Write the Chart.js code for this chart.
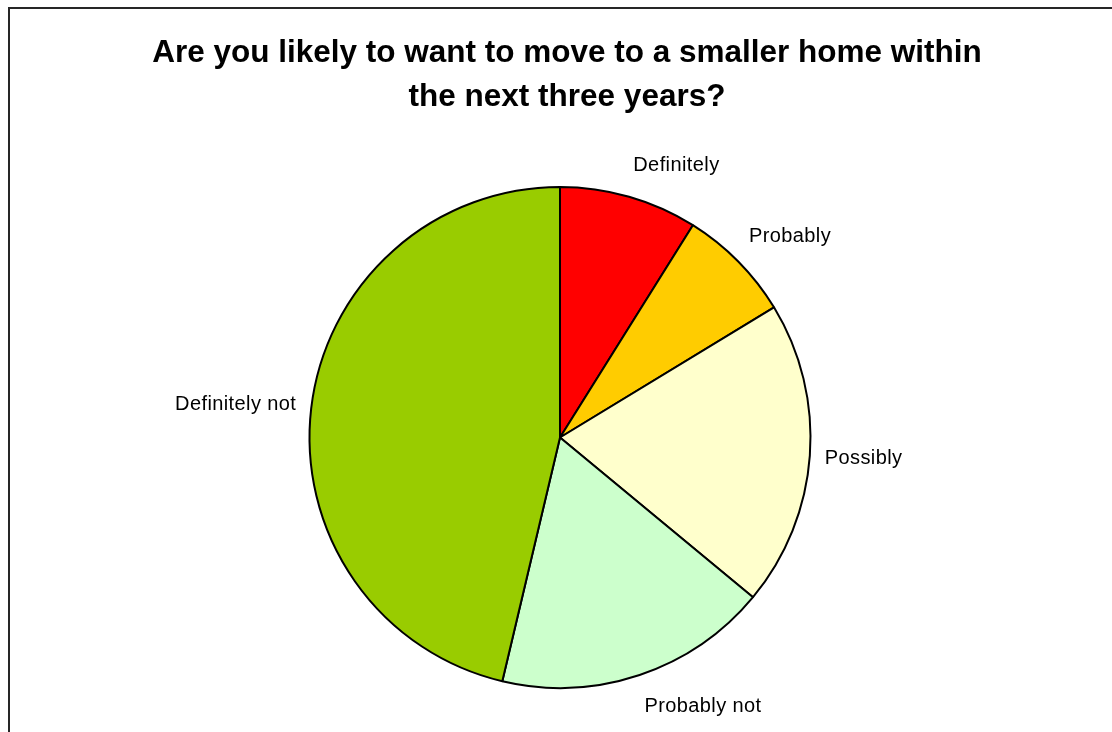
<!DOCTYPE html>
<html>
<head>
<meta charset="utf-8">
<script src="https://cdn.jsdelivr.net/npm/chart.js@4.4.1/dist/chart.umd.min.js"></script>
<style>
  html, body { margin: 0; padding: 0; background: #ffffff; }
  #wrap { position: relative; width: 1112px; height: 732px; overflow: hidden; }
  canvas { position: absolute; left: 0; top: 0; }
</style>
</head>
<body>
<div id="wrap"><canvas id="c" width="1112" height="732"></canvas></div>
<script>
// ---- Data ----
const titleLines = ["Are you likely to want to move to a smaller home within", "the next three years?"];
const categories = ["Definitely", "Probably", "Possibly", "Probably not", "Definitely not"];
const shares = [8.9, 7.4, 19.7, 17.7, 46.3];
const sliceColors = ["#FF0000", "#FFCC00", "#FFFFCC", "#CCFFCC", "#99CC00"];

// ---- Frame + title plugin ----
const framePlugin = {
  id: 'frameTitle',
  beforeDraw(chart) {
    const ctx = chart.ctx;
    ctx.save();
    ctx.fillStyle = '#ffffff';
    ctx.fillRect(0, 0, chart.width, chart.height);
    ctx.fillStyle = '#262626';
    ctx.fillRect(8, 7, 2, chart.height - 7);
    ctx.fillRect(8, 7, chart.width - 8, 2);
    ctx.fillStyle = '#000000';
    ctx.font = 'bold 31.5px "Liberation Sans", Arial, sans-serif';
    ctx.textAlign = 'center';
    ctx.textBaseline = 'alphabetic';
    titleLines.forEach((t, i) => ctx.fillText(t, 567, 62 + i * 44));
    ctx.restore();
  }
};

// ---- Outside labels plugin ----
const labelPlugin = {
  id: 'outsideLabels',
  afterDatasetsDraw(chart) {
    const ctx = chart.ctx;
    const meta = chart.getDatasetMeta(0);
    ctx.save();
    ctx.font = '20px "Liberation Sans", Arial, sans-serif';
    if ('letterSpacing' in ctx) ctx.letterSpacing = '0.4px';
    ctx.fillStyle = '#000000';
    ctx.textBaseline = 'middle';
    meta.data.forEach((arc, i) => {
      const p = arc.getProps(['x', 'y', 'startAngle', 'endAngle', 'outerRadius'], true);
      const mid = (p.startAngle + p.endAngle) / 2;
      const s = Math.cos(mid);   // horizontal component
      const c = -Math.sin(mid);  // upward component
      const R = p.outerRadius + 15;
      const ax = p.x + R * s;
      const ay = p.y - R * c;
      ctx.textAlign = s > 0.05 ? 'left' : (s < -0.05 ? 'right' : 'center');
      const v = Math.sign(c) * Math.min(1, Math.abs(c) * 1.2);
      const ty = ay - 17 * v;
      ctx.fillText(categories[i], ax, ty);
    });
    ctx.restore();
  }
};

new Chart(document.getElementById('c'), {
  type: 'pie',
  data: {
    labels: categories,
    datasets: [{
      data: shares,
      backgroundColor: sliceColors,
      borderColor: '#000000',
      borderWidth: 2
    }]
  },
  options: {
    responsive: false,
    animation: false,
    layout: { padding: { top: 186, bottom: 43, left: 300, right: 292 } },
    plugins: {
      legend: { display: false },
      tooltip: { enabled: false },
      title: { display: false }
    }
  },
  plugins: [framePlugin, labelPlugin]
});
</script>
</body>
</html>
